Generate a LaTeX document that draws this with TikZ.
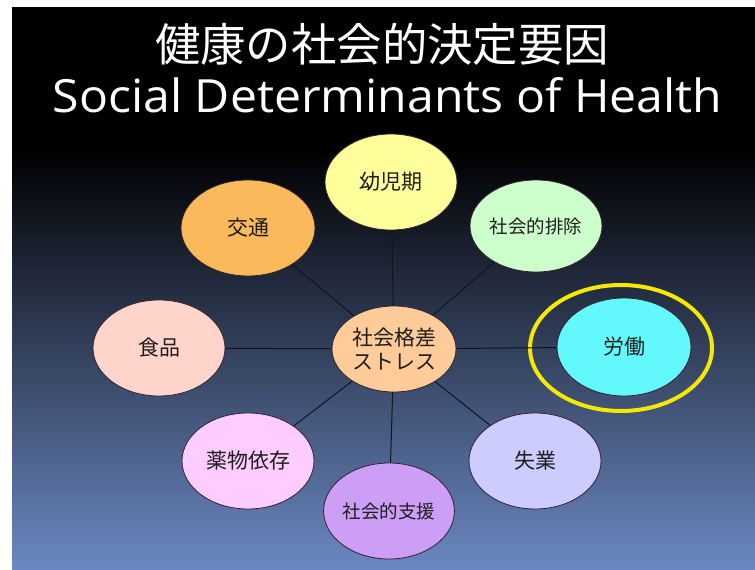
\documentclass[tikz,border=0pt]{standalone}
\usepackage{fontspec}
\usetikzlibrary{shapes.geometric}
\newfontfamily\jpfont{Noto Sans CJK JP}
\newfontfamily\latfont{Open Sans}
\definecolor{bgbottom}{RGB}{107,136,194}
\definecolor{edgec}{RGB}{50,35,45}
\definecolor{linec}{RGB}{16,20,30}
\definecolor{txt}{RGB}{30,30,30}
\definecolor{cYoji}{RGB}{254,254,154}
\definecolor{cKotsu}{RGB}{250,186,92}
\definecolor{cHaijo}{RGB}{204,255,204}
\definecolor{cShoku}{RGB}{255,212,202}
\definecolor{cCenter}{RGB}{255,204,153}
\definecolor{cRodo}{RGB}{98,248,252}
\definecolor{cYaku}{RGB}{255,204,255}
\definecolor{cShien}{RGB}{204,158,246}
\definecolor{cShitsu}{RGB}{204,204,255}
\definecolor{ringc}{RGB}{246,232,0}
\begin{document}
\begin{tikzpicture}[x=1pt,y=-1pt,
  bubble/.style={ellipse, draw=edgec, line width=0.8pt, inner sep=0pt,
    minimum width=132pt, minimum height=96pt, text=txt,
    font=\jpfont\fontsize{21pt}{24pt}\selectfont, align=center},
  smalltext/.style={font=\jpfont\fontsize{18.5pt}{22pt}\selectfont},
  link/.style={draw=linec, line width=1pt},
  titletext/.style={text=white, inner sep=0pt}]
\useasboundingbox (0,0) rectangle (755,570);
\fill[white] (0,0) rectangle (755,570);
\fill[black] (12,7) rectangle (755,151);
\shade[top color=black, bottom color=bgbottom] (12,150) rectangle (755,570);

% title
\node[titletext, font=\jpfont\fontsize{45.4pt}{50pt}\selectfont] (t1) at (382,44) {健康の社会的決定要因};
\node[titletext] (t2) at (387.5,95.5) {\resizebox{669pt}{35pt}{\latfont Social Determinants of Health}};

% nodes
\node[bubble, fill=cCenter, minimum width=124pt, minimum height=86pt] (ctr) at (394,349) {社会格差\\ストレス};
\node[bubble, fill=cYoji] (yoji) at (391,182) {幼児期};
\node[bubble, fill=cKotsu, minimum width=134pt] (kotsu) at (248,228) {交通};
\node[bubble, fill=cHaijo, smalltext, minimum height=92pt] (haijo) at (536,226) {社会的排除};
\node[bubble, fill=cShoku] (shoku) at (159,348) {食品};
\node[bubble, fill=cRodo, minimum width=134pt, minimum height=98pt] (rodo) at (624,347) {労働};
\node[bubble, fill=cYaku] (yaku) at (248,461) {薬物依存};
\node[bubble, fill=cShien, smalltext, minimum width=128pt] (shien) at (389,511) {社会的支援};
\node[bubble, fill=cShitsu] (shitsu) at (535,461) {失業};
\node[ellipse, draw=ringc, line width=4pt, inner sep=0pt, minimum width=182pt, minimum height=126pt] (ring) at (621,348) {};

% connectors
\draw[link] (ctr) -- (yoji);
\draw[link] (ctr) -- (kotsu);
\draw[link] (ctr) -- (haijo);
\draw[link] (ctr) -- (shoku);
\draw[link] (ctr) -- (rodo);
\draw[link] (ctr) -- (yaku);
\draw[link] (ctr) -- (shien);
\draw[link] (ctr) -- (shitsu);
\end{tikzpicture}
\end{document}
